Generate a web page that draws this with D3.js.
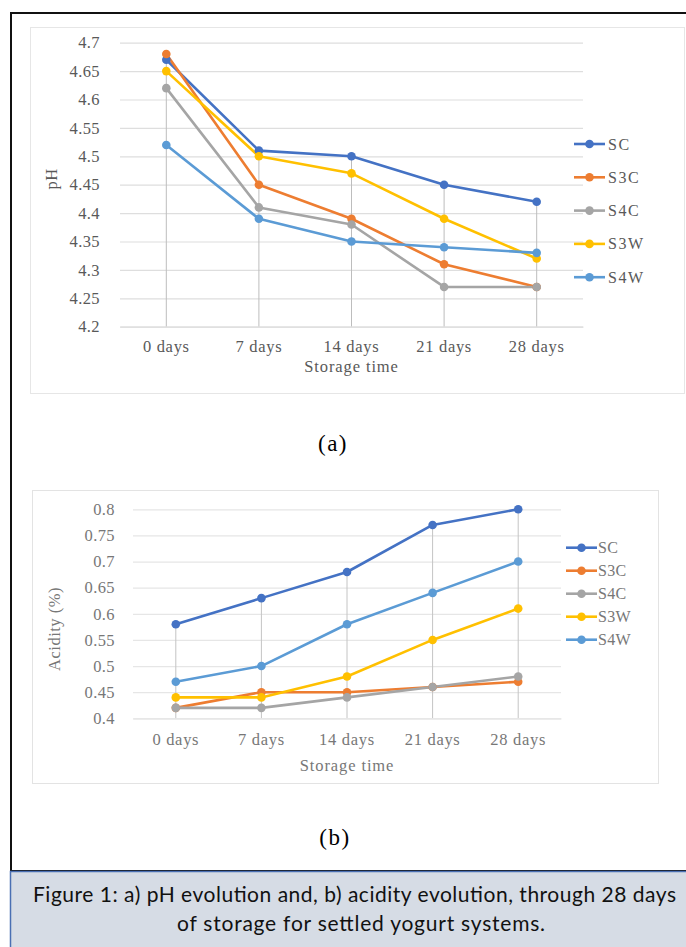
<!DOCTYPE html>
<html><head><meta charset="utf-8">
<script src="https://cdn.jsdelivr.net/npm/d3@7"></script>
<style>
html,body{margin:0;padding:0;background:#fff;}
svg{display:block;}
</style></head>
<body>
<svg id="c" width="686" height="947"></svg>
<script>
const categories = ["0 days","7 days","14 days","21 days","28 days"];
const seriesNames = ["SC","S3C","S4C","S3W","S4W"];
const seriesColors = ["#4472c4","#ed7d31","#a5a5a5","#ffc000","#5b9bd5"];
const phSC  = [4.67,4.51,4.50,4.45,4.42];
const phS3C = [4.68,4.45,4.39,4.31,4.27];
const phS4C = [4.62,4.41,4.38,4.27,4.27];
const phS3W = [4.65,4.50,4.47,4.39,4.32];
const phS4W = [4.52,4.39,4.35,4.34,4.33];
const phTicks = [4.2,4.25,4.3,4.35,4.4,4.45,4.5,4.55,4.6,4.65,4.7];
const acSC  = [0.58,0.63,0.68,0.77,0.80];
const acS3C = [0.42,0.45,0.45,0.46,0.47];
const acS4C = [0.42,0.42,0.44,0.46,0.48];
const acS3W = [0.44,0.44,0.48,0.55,0.61];
const acS4W = [0.47,0.50,0.58,0.64,0.70];
const acTicks = [0.4,0.45,0.5,0.55,0.6,0.65,0.7,0.75,0.8];

const svg = d3.select("#c");
const fmt = d => String(+(+d).toFixed(2));
const SERIF = "'Liberation Serif', 'Times New Roman', serif";

// outer frame
svg.append("rect").attr("x",11).attr("y",13).attr("width",700).attr("height",858)
  .attr("fill","#fff").attr("stroke","#111").attr("stroke-width",2);

// caption box
svg.append("rect").attr("x",10.5).attr("y",871.5).attr("width",700).attr("height",100)
  .attr("fill","#d6dce5").attr("stroke","#4a6fb3").attr("stroke-width",1.5);
svg.append("text").attr("x",33).attr("y",902)
  .attr("font-family","Lato, 'Open Sans', sans-serif").attr("font-size",21).attr("fill","#111")
  .attr("textLength",643).attr("lengthAdjust","spacing")
  .text("Figure 1: a) pH evolution and, b) acidity evolution, through 28 days");
svg.append("text").attr("x",177).attr("y",931)
  .attr("font-family","Lato, 'Open Sans', sans-serif").attr("font-size",21).attr("fill","#111")
  .attr("textLength",368).attr("lengthAdjust","spacing")
  .text("of storage for settled yogurt systems.");

function drawChart(cfg){
  const g = svg.append("g");
  g.append("rect").attr("x",cfg.frame[0]).attr("y",cfg.frame[1])
   .attr("width",cfg.frame[2]-cfg.frame[0]).attr("height",cfg.frame[3]-cfg.frame[1])
   .attr("fill","none").attr("stroke",cfg.frameColor).attr("stroke-width",1);

  const x = d3.scaleBand().domain(categories).range([cfg.left,cfg.right]).padding(0);
  const y = d3.scaleLinear().domain(cfg.domain).range([cfg.bottom,cfg.top]);

  const grid = g.append("g").attr("transform",`translate(${cfg.left},0)`)
    .call(d3.axisLeft(y).tickValues(cfg.ticks).tickSize(-(cfg.right-cfg.left)).tickFormat(""));
  grid.select(".domain").remove();
  grid.selectAll("line").attr("stroke",cfg.gridColor).attr("stroke-width",1.2);

  const ya = g.append("g").attr("transform",`translate(${cfg.left-cfg.labelGap},0)`)
    .call(d3.axisLeft(y).tickValues(cfg.ticks).tickSize(0).tickFormat(fmt));
  ya.select(".domain").remove();
  ya.selectAll("text").attr("font-family",SERIF).attr("font-size",16.5)
    .attr("letter-spacing",0.4).attr("fill",cfg.textColor);

  const allSeries = cfg.series;
  g.append("g").selectAll("line").data(categories).join("line")
    .attr("x1",d=>x(d)+x.bandwidth()/2).attr("x2",d=>x(d)+x.bandwidth()/2)
    .attr("y1",(d,i)=>y(d3.max(allSeries,s=>s[i]))).attr("y2",y(cfg.domain[0]))
    .attr("stroke",cfg.dropColor).attr("stroke-width",1);

  const xa = g.append("g").attr("transform",`translate(0,${y(cfg.domain[0])})`)
    .call(d3.axisBottom(x).tickSize(0).tickPadding(cfg.xPad));
  xa.select(".domain").attr("stroke",cfg.gridColor).attr("stroke-width",1.2);
  xa.selectAll("text").attr("font-family",SERIF).attr("font-size",16.5)
    .attr("letter-spacing",0.7).attr("fill",cfg.textColor);

  g.append("text").attr("x",(cfg.left+cfg.right)/2).attr("y",cfg.xTitleY).attr("text-anchor","middle")
   .attr("font-family",SERIF).attr("font-size",16.5).attr("fill",cfg.textColor)
   .attr("letter-spacing",0.9).text("Storage time");
  g.append("text").attr("transform",`translate(${cfg.yTitleX},${cfg.yTitleY}) rotate(-90)`)
   .attr("text-anchor","middle").attr("font-family",SERIF).attr("font-size",16.5)
   .attr("letter-spacing",0.5).attr("fill",cfg.textColor).text(cfg.yTitle);

  const line = d3.line().x((d,i)=>x(categories[i])+x.bandwidth()/2).y(d=>y(d));
  allSeries.forEach((s,k)=>{
    g.append("path").datum(s).attr("d",line).attr("fill","none")
      .attr("stroke",seriesColors[k]).attr("stroke-width",2.6).attr("stroke-linejoin","round");
  });
  allSeries.forEach((s,k)=>{
    g.append("g").selectAll("circle").data(s).join("circle")
      .attr("cx",(d,i)=>x(categories[i])+x.bandwidth()/2).attr("cy",d=>y(d)).attr("r",4.3)
      .attr("fill",seriesColors[k]);
  });

  const lg = g.append("g");
  seriesNames.forEach((n,k)=>{
    const ly = cfg.legY + k*cfg.legStep;
    lg.append("line").attr("x1",cfg.legX).attr("x2",cfg.legX+31).attr("y1",ly).attr("y2",ly)
      .attr("stroke",seriesColors[k]).attr("stroke-width",2.6);
    lg.append("circle").attr("cx",cfg.legX+15.5).attr("cy",ly).attr("r",4.3).attr("fill",seriesColors[k]);
    lg.append("text").attr("x",cfg.legX+cfg.legTextDx).attr("y",ly+5.5).attr("font-family",SERIF)
      .attr("font-size",16).attr("fill",cfg.textColor).attr("letter-spacing",cfg.legSpacing).text(n);
  });
}

drawChart({
  frame:[30.5,27.5,684.5,393.5], frameColor:"#e6e6e6",
  left:120, right:583, top:42.7, bottom:326.7,
  domain:[4.2,4.7], ticks:phTicks, labelGap:17, xPad:14,
  gridColor:"#dedede", dropColor:"#bdbdbd", textColor:"#595959",
  series:[phSC,phS3C,phS4C,phS3W,phS4W],
  xTitleY:372, yTitleX:57, yTitleY:179, yTitle:"pH",
  legX:574, legY:144, legStep:33.3, legSpacing:1.6, legTextDx:34
});

drawChart({
  frame:[32.5,490.5,658.5,783.5], frameColor:"#e3e3e3",
  left:133, right:561, top:509.3, bottom:718.3,
  domain:[0.4,0.8], ticks:acTicks, labelGap:15, xPad:15,
  gridColor:"#e6e6e6", dropColor:"#c4c4c4", textColor:"#777777",
  series:[acSC,acS3C,acS4C,acS3W,acS4W],
  xTitleY:771, yTitleX:60, yTitleY:629, yTitle:"Acidity (%)",
  legX:566, legY:547.7, legStep:23, legSpacing:0.3, legTextDx:32
});

svg.append("text").attr("x",333).attr("y",451).attr("text-anchor","middle")
  .attr("font-family",SERIF).attr("font-size",23).attr("letter-spacing",1.5).attr("fill","#000").text("(a)");
svg.append("text").attr("x",335).attr("y",845).attr("text-anchor","middle")
  .attr("font-family",SERIF).attr("font-size",23).attr("letter-spacing",1.5).attr("fill","#000").text("(b)");
</script>
</body></html>
